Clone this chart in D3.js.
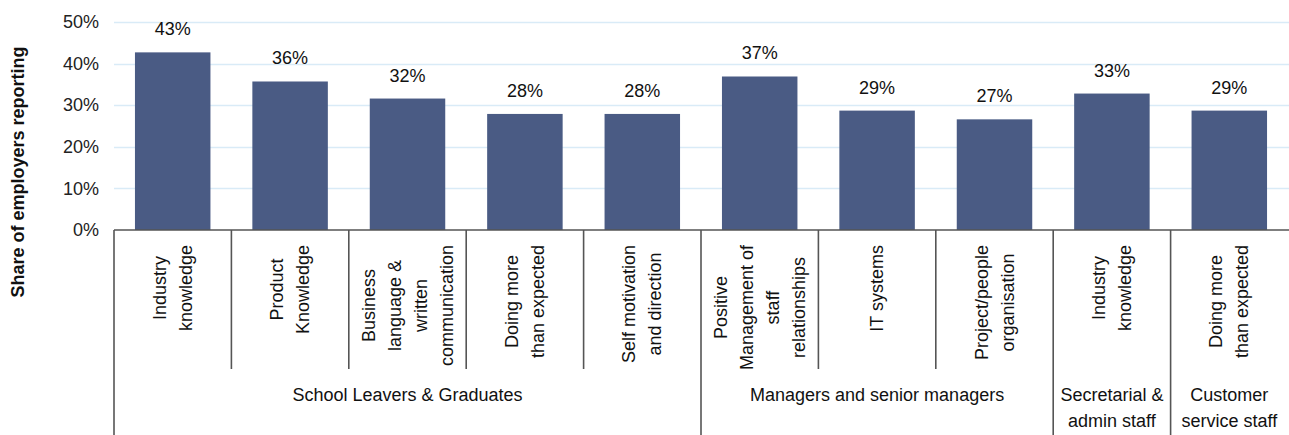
<!DOCTYPE html>
<html>
<head>
<meta charset="utf-8">
<script src="https://cdn.jsdelivr.net/npm/d3@7"></script>
<style>
  html, body { margin: 0; padding: 0; background: #fff; }
  svg { display: block; font-family: "Liberation Sans", Arial, sans-serif; }
</style>
</head>
<body>
<svg id="chart" width="1289" height="435"></svg>
<script>
// ---- data ----
const categoryLines = [
  ["Industry", "knowledge"],
  ["Product", "Knowledge"],
  ["Business", "language &", "written", "communication"],
  ["Doing more", "than expected"],
  ["Self motivation", "and direction"],
  ["Positive", "Management of", "staff", "relationships"],
  ["IT systems"],
  ["Project/people", "organisation"],
  ["Industry", "knowledge"],
  ["Doing more", "than expected"]
];
const values = [42.7, 35.7, 31.6, 27.9, 27.9, 36.9, 28.7, 26.6, 32.8, 28.7];
const groupOf = [0, 0, 0, 0, 0, 1, 1, 1, 2, 3];
const groupLines = [
  ["School Leavers & Graduates"],
  ["Managers and senior managers"],
  ["Secretarial &", "admin staff"],
  ["Customer", "service staff"]
];
const yTicks = [0, 10, 20, 30, 40, 50];
const yTitle = "Share of employers reporting";

// ---- layout ----
(function () {
const svg = d3.select("#chart");
const mLeft = 114, mRight = 1288, mTop = 22, axisY = 230;
const fontSize = 18;
const idx = values.map((d, i) => i);

const x = d3.scaleBand().domain(idx).range([mLeft, mRight])
  .paddingInner(0.357).paddingOuter(0.1785);
const step = x.step();
const y = d3.scaleLinear().domain([0, 50]).range([axisY, mTop]);

// gridlines
svg.append("g").selectAll("line").data(yTicks.filter(t => t > 0)).join("line")
  .attr("x1", mLeft).attr("x2", 1289)
  .attr("y1", d => Math.round(y(d)) + 0.5).attr("y2", d => Math.round(y(d)) + 0.5)
  .attr("stroke", "#d9ebf7").attr("stroke-width", 1.3);

// y axis labels
const yAxis = d3.axisLeft(y).tickValues(yTicks).tickFormat(d => d + "%").tickSize(0).tickPadding(15);
const yg = svg.append("g").attr("transform", `translate(${mLeft},0)`).call(yAxis);
yg.select(".domain").remove();
yg.selectAll("text").attr("font-size", fontSize).attr("fill", "#222")
  .attr("font-family", "Liberation Sans, Arial, sans-serif");

// y title
svg.append("text")
  .attr("transform", `translate(24,172) rotate(-90)`)
  .attr("text-anchor", "middle")
  .attr("font-size", fontSize).attr("font-weight", "bold").attr("fill", "#111")
  .text(yTitle);

// bars
svg.append("g").selectAll("rect").data(values).join("rect")
  .attr("x", (d, i) => x(i)).attr("width", x.bandwidth())
  .attr("y", d => y(d)).attr("height", d => y(0) - y(d))
  .attr("fill", "#4a5b84");

// value labels
svg.append("g").selectAll("text").data(values).join("text")
  .attr("x", (d, i) => x(i) + x.bandwidth() / 2)
  .attr("y", d => y(d) - 17)
  .attr("text-anchor", "middle")
  .attr("font-size", fontSize).attr("fill", "#111")
  .text(d => Math.round(d) + "%");

// axis frame
const frame = svg.append("g").attr("stroke", "#555").attr("stroke-width", 1.6);
frame.append("line").attr("x1", mLeft).attr("x2", 1289).attr("y1", axisY).attr("y2", axisY);
const catStart = i => x(i) - x.paddingInner() * step / 2;
for (let i = 0; i < values.length; i++) {
  const bx = catStart(i);
  const isGroupStart = i === 0 || groupOf[i] !== groupOf[i - 1];
  frame.append("line").attr("x1", bx).attr("x2", bx)
    .attr("y1", axisY).attr("y2", isGroupStart ? 435 : 369);
}

// category labels (rotated, multi-line, centered lines, top-anchored)
const lineGap = 26;
const catG = svg.append("g");
categoryLines.forEach((lines, i) => {
  const cx = x(i) + x.bandwidth() / 2;
  const g = catG.append("g");
  const texts = lines.map(l => g.append("text")
    .attr("font-size", fontSize).attr("fill", "#111").text(l));
  const maxW = d3.max(texts, t => t.node().getComputedTextLength());
  const cy = 245 + maxW / 2;
  texts.forEach((t, j) => {
    const lx = cx + (j - (lines.length - 1) / 2) * lineGap;
    t.attr("text-anchor", "middle").attr("dominant-baseline", "central")
      .attr("transform", `translate(${lx},${cy}) rotate(-90)`);
  });
});

// group labels
groupLines.forEach((lines, gi) => {
  const members = idx.filter(i => groupOf[i] === gi);
  const gx0 = catStart(members[0]);
  const gx1 = catStart(members[members.length - 1]) + step;
  lines.forEach((l, j) => {
    svg.append("text")
      .attr("x", (gx0 + gx1) / 2).attr("y", 395 + j * lineGap)
      .attr("text-anchor", "middle").attr("dominant-baseline", "central")
      .attr("font-size", fontSize).attr("fill", "#111")
      .text(l);
  });
});
})();
</script>
</body>
</html>
